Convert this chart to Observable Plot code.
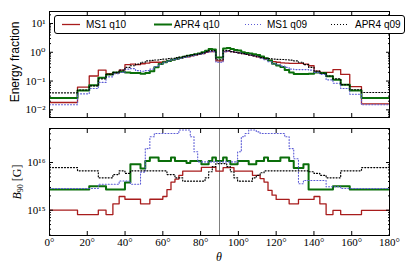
<!DOCTYPE html>
<html><head><meta charset="utf-8">
<script src="https://cdn.jsdelivr.net/npm/d3@7"></script>
<script src="https://cdn.jsdelivr.net/npm/@observablehq/plot@0.6"></script>
<style>
body{margin:0;background:#fff;}
#chart{position:relative;width:411px;height:274px;overflow:hidden;}
#chart svg{display:block;}
.legend{position:absolute;left:54px;top:15px;width:349px;height:17px;border:1px solid #000;border-radius:3px;background:#fff;font:10px "Liberation Sans",Arial,sans-serif;}
.legend .it{position:absolute;top:0;height:17px;line-height:17px;white-space:nowrap;}
.legend svg{position:absolute;top:0;}
</style></head><body><div id="chart"></div>
<script>
// bin edges in theta (degrees), 60 bins of equal solid angle
const edges = [0, 14.83, 21.04, 25.84, 29.93, 33.56, 36.87, 39.94, 42.83, 45.57, 48.19, 50.70, 53.13, 55.48, 57.77, 60.00, 62.18, 64.32, 66.42, 68.49, 70.53, 72.54, 74.53, 76.51, 78.46, 80.41, 82.34, 84.26, 86.18, 88.09, 90.00, 91.91, 93.82, 95.74, 97.66, 99.59, 101.54, 103.49, 105.47, 107.46, 109.47, 111.51, 113.58, 115.68, 117.82, 120.00, 122.23, 124.52, 126.87, 129.30, 131.81, 134.43, 137.17, 140.06, 143.13, 146.44, 150.07, 154.16, 158.96, 165.17, 180];

const seriesNames = ["MS1 q10", "APR4 q10", "MS1 q09", "APR4 q09"];

// Energy fraction (top panel)
const ms1q10_E = [0.018, 0.062, 0.15, 0.24, 0.18, 0.19, 0.24, 0.37, 0.39, 0.37, 0.40, 0.42, 0.45, 0.45, 0.45, 0.48, 0.5, 0.55, 0.58, 0.62, 0.66, 0.7, 0.75, 0.8, 0.85, 0.9, 1.0, 1.05, 1.05, 0.5,
  0.5, 1.05, 1.1, 1.05, 1.0, 0.95, 0.9, 0.85, 0.8, 0.75, 0.7, 0.65, 0.58, 0.52, 0.47, 0.45, 0.43, 0.42, 0.41, 0.41, 0.41, 0.39, 0.34, 0.22, 0.20, 0.20, 0.25, 0.17, 0.064, 0.016];
const apr4q10_E = [0.026, 0.047, 0.072, 0.13, 0.17, 0.2, 0.21, 0.2, 0.19, 0.19, 0.18, 0.19, 0.22, 0.30, 0.39, 0.45, 0.5, 0.55, 0.6, 0.65, 0.7, 0.75, 0.8, 0.85, 0.9, 1.0, 1.13, 1.3, 1.25, 0.66,
  0.66, 1.35, 1.4, 1.3, 1.2, 1.15, 1.0, 0.95, 0.9, 0.85, 0.8, 0.72, 0.62, 0.52, 0.40, 0.35, 0.31, 0.24, 0.2, 0.176, 0.176, 0.176, 0.18, 0.2, 0.19, 0.146, 0.11, 0.075, 0.047, 0.026];
const ms1q09_E = [0.015, 0.036, 0.055, 0.09, 0.14, 0.18, 0.2, 0.26, 0.27, 0.23, 0.22, 0.23, 0.26, 0.32, 0.39, 0.45, 0.5, 0.55, 0.58, 0.62, 0.66, 0.7, 0.75, 0.8, 0.85, 0.9, 1.0, 1.05, 1.05, 0.45,
  0.45, 1.05, 1.1, 1.05, 1.0, 0.95, 0.9, 0.85, 0.8, 0.75, 0.7, 0.62, 0.55, 0.47, 0.4, 0.37, 0.33, 0.3, 0.26, 0.25, 0.25, 0.25, 0.24, 0.2, 0.17, 0.11, 0.084, 0.055, 0.035, 0.015];
const apr4q09_E = [0.039, 0.049, 0.068, 0.12, 0.17, 0.2, 0.24, 0.3, 0.34, 0.39, 0.45, 0.5, 0.52, 0.54, 0.56, 0.58, 0.6, 0.62, 0.65, 0.68, 0.72, 0.76, 0.8, 0.85, 0.9, 0.95, 1.05, 1.15, 1.15, 0.55,
  0.55, 1.15, 1.15, 1.05, 1.0, 0.95, 0.9, 0.85, 0.8, 0.75, 0.7, 0.65, 0.62, 0.6, 0.58, 0.57, 0.56, 0.55, 0.53, 0.5, 0.45, 0.37, 0.3, 0.22, 0.19, 0.15, 0.12, 0.075, 0.05, 0.04];

// B_90 in Gauss (bottom panel)
const ms1q10_B = [1.0e15, 8.1e14, 8.1e14, 1.0e15, 8.1e14, 1.36e15, 1.94e15, 1.7e15, 1.7e15, 1.7e15, 1.36e15, 1.36e15, 1.7e15, 1.7e15, 1.7e15, 1.94e15, 2.7e15, 3.9e15, 4.5e15, 5.4e15, 6.6e15, 6.6e15, 6.6e15, 6.6e15, 6.6e15, 7.9e15, 7.9e15, 7.9e15, 7.9e15, 6.6e15,
  6.6e15, 7.8e15, 7.8e15, 7.8e15, 6.6e15, 6.6e15, 6.6e15, 6.6e15, 6.6e15, 5.4e15, 5.4e15, 4.6e15, 3.9e15, 2.6e15, 2.07e15, 1.68e15, 1.68e15, 1.68e15, 1.36e15, 1.36e15, 1.68e15, 1.68e15, 1.68e15, 1.94e15, 1.36e15, 8.1e14, 9.9e14, 8.1e14, 8.1e14, 9.9e14];
const apr4q10_B = [2.72e15, 2.72e15, 3.19e15, 3.19e15, 2.72e15, 2.72e15, 2.72e15, 3.8e15, 9.2e15, 9.2e15, 7.5e15, 1.08e16, 1.27e16, 1.27e16, 1.08e16, 1.08e16, 1.08e16, 1.27e16, 1.08e16, 1.08e16, 1.08e16, 9.8e15, 1.08e16, 1.08e16, 1.08e16, 9.2e15, 9.2e15, 1.08e16, 1.27e16, 1.08e16,
  1.08e16, 1.27e16, 1.08e16, 9.2e15, 9.2e15, 1.08e16, 1.08e16, 1.08e16, 9.2e15, 9.2e15, 1.08e16, 1.08e16, 1.27e16, 1.08e16, 1.08e16, 1.08e16, 1.27e16, 1.27e16, 1.08e16, 7.7e15, 7.7e15, 9.2e15, 2.72e15, 2.72e15, 2.72e15, 2.72e15, 3.19e15, 3.19e15, 2.72e15, 2.72e15];
const ms1q09_B = [2.85e15, 2.85e15, 2.85e15, 3.5e15, 3.5e15, 3.5e15, 4.1e15, 4.1e15, 3.5e15, 3.5e15, 6.3e15, 1.96e16, 3.46e16, 4.06e16, 4.06e16, 4.06e16, 4.06e16, 4.06e16, 4.06e16, 4.8e16, 4.8e16, 4.8e16, 3.46e16, 1.68e16, 1.03e16, 1.03e16, 1.03e16, 1.03e16, 1.03e16, 1.03e16,
  1.03e16, 1.03e16, 1.03e16, 1.03e16, 1.03e16, 1.68e16, 3.46e16, 4.06e16, 4.8e16, 4.8e16, 4.4e16, 4.06e16, 4.06e16, 4.06e16, 4.06e16, 4.06e16, 4.06e16, 3.46e16, 1.96e16, 1.2e16, 3.6e15, 4.2e15, 4.2e15, 4.2e15, 4.2e15, 3.1e15, 3.1e15, 2.85e15, 2.85e15, 2.85e15];
const apr4q09_B = [7.85e15, 6.7e15, 6.7e15, 4.77e15, 4.77e15, 5.6e15, 6.7e15, 5.9e15, 6.7e15, 6.7e15, 6.7e15, 6.7e15, 6.7e15, 6.7e15, 6.7e15, 6.7e15, 5.6e15, 5.6e15, 4.77e15, 4.77e15, 4.07e15, 4.07e15, 4.07e15, 4.07e15, 4.07e15, 4.07e15, 4.77e15, 6.4e15, 8.2e15, 9.5e15,
  9.5e15, 9.5e15, 8.2e15, 6.4e15, 4.77e15, 4.07e15, 4.07e15, 4.07e15, 4.07e15, 4.77e15, 5.4e15, 6.1e15, 6.7e15, 6.7e15, 6.7e15, 6.7e15, 6.7e15, 6.7e15, 6.7e15, 6.7e15, 6.7e15, 6.7e15, 6.4e15, 5.9e15, 5.4e15, 4.77e15, 4.77e15, 6.7e15, 6.7e15, 7.85e15];

const xTicks = [0, 20, 40, 60, 80, 100, 120, 140, 160, 180];
const topYTicks = [0.01, 0.1, 1, 10];
const topYLabels = ["10⁻²", "10⁻¹", "10⁰", "10¹"];
const botYTicks = [1e15, 1e16];
const botYLabels = ["10¹⁵", "10¹⁶"];

const styles = [
  {stroke: "#a81c1c", strokeWidth: 1.3, dash: null},
  {stroke: "#0a6e0a", strokeWidth: 2, dash: null},
  {stroke: "#5b5bd6", strokeWidth: 1.1, dash: "1,2"},
  {stroke: "#000000", strokeWidth: 1.2, dash: "1,2"}
];

const Eseries = [ms1q10_E, apr4q10_E, ms1q09_E, apr4q09_E];
const Bseries = [ms1q10_B, apr4q10_B, ms1q09_B, apr4q09_B];

function stepRows(vals) {
  return edges.map((e, i) => ({theta: e, v: vals[Math.min(i, vals.length - 1)]}));
}
function minorTicks(lo, hi) {
  const out = [];
  for (let k = lo; k <= hi; k++) for (let m = 2; m <= 9; m++) out.push(m * Math.pow(10, k));
  return out;
}
const blank = () => "";
function axes(yMajor, yLabels, yMinor, xLabels) {
  return [
    Plot.axisX({anchor: "bottom", ticks: xTicks, tickSize: -4, tickPadding: 7, tickFormat: xLabels ? (d => d + "°") : blank, label: null}),
    Plot.axisX({anchor: "top", ticks: xTicks, tickSize: -4, tickFormat: blank, label: null}),
    Plot.axisY({anchor: "left", ticks: yMajor, tickSize: -4, tickPadding: 8, tickFormat: (d, i) => yLabels[yMajor.indexOf(d)], label: null}),
    Plot.axisY({anchor: "left", ticks: yMinor, tickSize: -2, tickFormat: blank, label: null}),
    Plot.axisY({anchor: "right", ticks: yMajor, tickSize: -4, tickFormat: blank, label: null}),
    Plot.axisY({anchor: "right", ticks: yMinor, tickSize: -2, tickFormat: blank, label: null})
  ];
}
function lineMarks(list) {
  return list.map((vals, i) => Plot.line(stepRows(vals), {
    x: "theta", y: "v", curve: "step-after",
    stroke: styles[i].stroke, strokeWidth: styles[i].strokeWidth,
    strokeDasharray: styles[i].dash, clip: true
  }));
}

const font = {fontFamily: "'Liberation Serif', 'DejaVu Serif', serif", fontSize: "11px", background: "white", overflow: "visible"};

const topPlot = Plot.plot({
  width: 411, height: 122,
  marginLeft: 49, marginRight: 22, marginTop: 11, marginBottom: 5,
  x: {domain: [0, 180]},
  y: {type: "log", domain: [0.00542, 26.1]},
  style: font,
  marks: [
    Plot.ruleX([90], {stroke: "#808080", strokeWidth: 1}),
    ...lineMarks(Eseries),
    Plot.frame({stroke: "black", strokeWidth: 1}),
    ...axes(topYTicks, topYLabels, minorTicks(-3, 1).filter(v => v > 0.00542 && v < 26.1), false)
  ]
});

const botPlot = Plot.plot({
  width: 411, height: 152,
  marginLeft: 49, marginRight: 22, marginTop: 6, marginBottom: 39,
  x: {domain: [0, 180]},
  y: {type: "log", domain: [2.95e14, 5.17e16]},
  style: font,
  marks: [
    Plot.ruleX([90], {stroke: "#808080", strokeWidth: 1}),
    ...lineMarks(Bseries),
    Plot.frame({stroke: "black", strokeWidth: 1}),
    ...axes(botYTicks, botYLabels, minorTicks(14, 16).filter(v => v > 2.95e14 && v < 5.17e16), true)
  ]
});

const chart = document.getElementById("chart");
chart.appendChild(topPlot);
chart.appendChild(botPlot);

// axis titles
d3.select(topPlot).append("text")
  .attr("transform", "translate(16,62) rotate(-90)")
  .attr("text-anchor", "middle").attr("dominant-baseline", "middle")
  .style("font-family", "'Liberation Sans', Arial, sans-serif").style("font-size", "12px")
  .text("Energy fraction");

const bl = d3.select(botPlot).append("text")
  .attr("transform", "translate(18,60) rotate(-90)")
  .attr("text-anchor", "middle").attr("dominant-baseline", "middle")
  .style("font-family", "'Liberation Serif', serif").style("font-size", "12px");
bl.append("tspan").style("font-style", "italic").text("B");
bl.append("tspan").style("font-size", "8px").attr("dy", 3).text("90");
bl.append("tspan").attr("dy", -3).text(" [G]");

d3.select(botPlot).append("text")
  .attr("x", 219).attr("y", 136)
  .attr("text-anchor", "middle").attr("dominant-baseline", "middle")
  .style("font-family", "'Liberation Serif', serif").style("font-size", "12px").style("font-style", "italic")
  .text("θ");

// legend
const legend = document.createElement("div");
legend.className = "legend";
const lx = [7, 99, 190, 276];
const tx = [31, 119, 212, 300];
seriesNames.forEach((name, i) => {
  const s = styles[i];
  const sv = d3.create("svg").attr("width", 20).attr("height", 17)
    .style("left", lx[i] + "px");
  sv.append("line").attr("x1", 0).attr("x2", 18).attr("y1", 8.5).attr("y2", 8.5)
    .attr("stroke", s.stroke).attr("stroke-width", s.strokeWidth)
    .attr("stroke-dasharray", s.dash);
  legend.appendChild(sv.node());
  const t = document.createElement("span");
  t.className = "it";
  t.style.left = tx[i] + "px";
  t.textContent = name;
  legend.appendChild(t);
});
chart.appendChild(legend);
</script></body></html>
